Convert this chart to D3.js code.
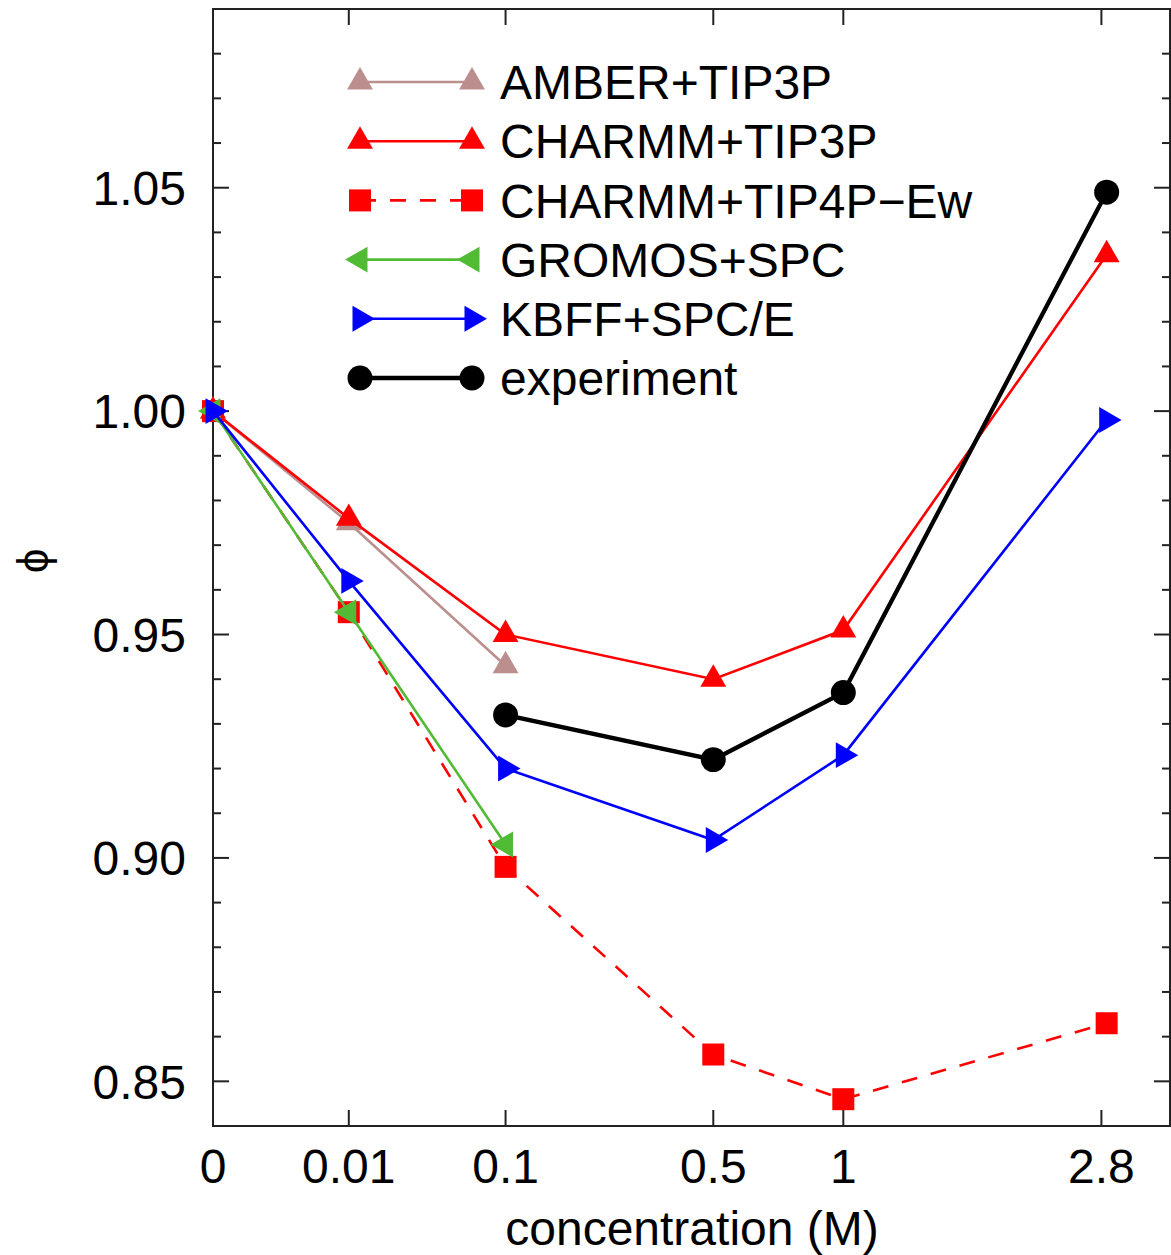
<!DOCTYPE html>
<html>
<head>
<meta charset="utf-8">
<script src="https://cdn.jsdelivr.net/npm/d3@7"></script>
<style>
    body { margin: 0; background: #fff; }
    text { font-family: "Liberation Sans", Arial, sans-serif; }
</style>
</head>
<body>
<svg id="chart" width="1171" height="1255"></svg>
<script>
// concentrations (M) and tick labels
const xValues = [0, 0.01, 0.1, 0.5, 1, 2.85];
const xTicks = [0, 0.01, 0.1, 0.5, 1, 2.8];
const xTickLabels = ["0", "0.01", "0.1", "0.5", "1", "2.8"];
const yTicks = [0.85, 0.90, 0.95, 1.00, 1.05];
const yMinorTicks = d3.range(84, 110).map(d => d / 100);

// osmotic coefficient phi for each model
const amber = [1.000, 0.975, 0.943];
const charmmTip3p = [1.000, 0.976, 0.950, 0.940, 0.951, 1.035];
const charmmTip4p = [1.000, 0.955, 0.898, 0.856, 0.846, 0.863];
const gromos = [1.000, 0.955, 0.903];
const kbff = [1.000, 0.962, 0.920, 0.904, 0.923, 0.998];
const experiment = [null, null, 0.932, 0.922, 0.937, 1.049];

const seriesNames = ["AMBER+TIP3P", "CHARMM+TIP3P", "CHARMM+TIP4P\u2212Ew", "GROMOS+SPC", "KBFF+SPC/E", "experiment"];
const seriesValues = [amber, charmmTip3p, charmmTip4p, gromos, kbff, experiment];

const style = [
    { color: "#bc8f8f", width: 2.6, dash: null, symbol: d3.symbolTriangle, size: 290, rotate: 0 },
    { color: "#ff0000", width: 2.6, dash: null, symbol: d3.symbolTriangle, size: 290, rotate: 0 },
    { color: "#ff0000", width: 2.6, dash: "16,14", symbol: d3.symbolSquare, size: 484, rotate: 0 },
    { color: "#52bb36", width: 2.6, dash: null, symbol: d3.symbolTriangle, size: 290, rotate: -90 },
    { color: "#0000ff", width: 2.6, dash: null, symbol: d3.symbolTriangle, size: 290, rotate: 90 },
    { color: "#000000", width: 4.3, dash: null, symbol: d3.symbolCircle, size: 490, rotate: 0 }
];

const svg = d3.select("#chart");
const plotLeft = 213, plotRight = 1170, plotTop = 9, plotBottom = 1126;

const x = d3.scalePow().exponent(1 / 3)
    .domain([0, 3.5])
    .range([plotLeft, plotRight]);

const y = d3.scaleLinear()
    .domain([0.84, 1.09])
    .range([plotBottom, plotTop]);

const axisColor = "#222";

// ticks, both sides
const tickG = svg.append("g").attr("stroke", axisColor).attr("stroke-width", 2);

tickG.selectAll(".ytick")
    .data(yMinorTicks)
    .join("g")
    .each(function (d) {
        const isMajor = yTicks.some(t => Math.abs(t - d) < 1e-9);
        const len = isMajor ? 16 : 8;
        d3.select(this).append("line")
            .attr("x1", plotLeft).attr("x2", plotLeft + len)
            .attr("y1", y(d)).attr("y2", y(d));
        d3.select(this).append("line")
            .attr("x1", plotRight).attr("x2", plotRight - len)
            .attr("y1", y(d)).attr("y2", y(d));
    });

tickG.selectAll(".xtick")
    .data(xTicks.slice(1))
    .join("g")
    .each(function (d) {
        d3.select(this).append("line")
            .attr("x1", x(d)).attr("x2", x(d))
            .attr("y1", plotBottom).attr("y2", plotBottom - 16);
        d3.select(this).append("line")
            .attr("x1", x(d)).attr("x2", x(d))
            .attr("y1", plotTop).attr("y2", plotTop + 16);
    });

// frame
svg.append("rect")
    .attr("x", plotLeft).attr("y", plotTop)
    .attr("width", plotRight - plotLeft).attr("height", plotBottom - plotTop)
    .attr("fill", "none")
    .attr("stroke", axisColor)
    .attr("stroke-width", 2);

// tick labels
svg.append("g")
    .selectAll("text")
    .data(yTicks)
    .join("text")
    .attr("x", 186)
    .attr("y", d => y(d))
    .attr("dy", "0.36em")
    .attr("text-anchor", "end")
    .attr("font-size", 48)
    .text(d => d.toFixed(2));

svg.append("g")
    .selectAll("text")
    .data(xTicks)
    .join("text")
    .attr("x", d => x(d))
    .attr("y", 1183)
    .attr("text-anchor", "middle")
    .attr("font-size", 48)
    .text((d, i) => xTickLabels[i]);

// axis titles
svg.append("text")
    .attr("x", (plotLeft + plotRight) / 2 + 0.5)
    .attr("y", 1245)
    .attr("text-anchor", "middle")
    .attr("font-size", 48)
    .text("concentration (M)");

svg.append("text")
    .attr("transform", "translate(48,561) rotate(-90)")
    .attr("text-anchor", "middle")
    .attr("font-size", 44)
    .text("\u03D5");

// series
const line = d3.line()
    .x(d => x(d.c))
    .y(d => y(d.v));

const plot = svg.append("g");

seriesValues.forEach((vals, i) => {
    const s = style[i];
    const pts = vals.map((v, j) => ({ c: xValues[j], v: v })).filter(d => d.v != null);
    const g = plot.append("g");

    g.append("path")
        .datum(pts)
        .attr("d", line)
        .attr("fill", "none")
        .attr("stroke", s.color)
        .attr("stroke-width", s.width)
        .attr("stroke-dasharray", s.dash);

    g.selectAll("path.pt")
        .data(pts)
        .join("path")
        .attr("class", "pt")
        .attr("d", d3.symbol().type(s.symbol).size(s.size))
        .attr("transform", d => `translate(${x(d.c)},${y(d.v)}) rotate(${s.rotate})`)
        .attr("fill", s.color);
});

// legend
const legend = svg.append("g");
const legX1 = 360, legX2 = 472, legY0 = 82, legStep = 59.2;

seriesNames.forEach((name, i) => {
    const s = style[i];
    const ly = legY0 + i * legStep;
    const g = legend.append("g");

    g.append("line")
        .attr("x1", legX1).attr("x2", legX2)
        .attr("y1", ly).attr("y2", ly)
        .attr("stroke", s.color)
        .attr("stroke-width", s.width)
        .attr("stroke-dasharray", s.dash);

    [legX1, legX2].forEach(px => {
        g.append("path")
            .attr("d", d3.symbol().type(s.symbol).size(s.size)())
            .attr("transform", `translate(${px},${ly}) rotate(${s.rotate})`)
            .attr("fill", s.color);
    });

    g.append("text")
        .attr("x", 500)
        .attr("y", ly)
        .attr("dy", "0.36em")
        .attr("font-size", 48)
        .text(name);
});
</script>
</body>
</html>
